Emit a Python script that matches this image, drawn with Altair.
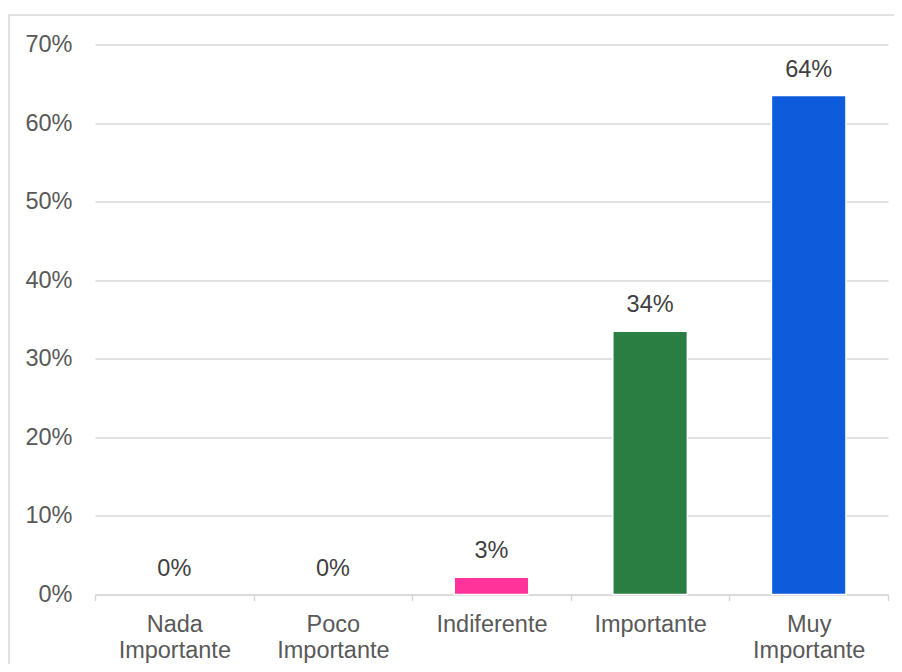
import altair as alt
import pandas as pd

categories = ["Nada Importante", "Poco Importante", "Indiferente", "Importante", "Muy Importante"]
values = [0.0, 0.0, 2.2, 33.5, 63.5]
labels = ["0%", "0%", "3%", "34%", "64%"]
colors = ["#FF3399", "#FF3399", "#FF3399", "#2A7E41", "#0E5BDC"]
y_ticks = [0, 10, 20, 30, 40, 50, 60, 70]

df = pd.DataFrame({"cat": categories, "val": values, "lab": labels})
frame_df = pd.DataFrame({"a": [0]})

FONT = "Liberation Sans"
FS = 23.5

x_enc = alt.X(
    "cat:N",
    sort=categories,
    scale=alt.Scale(domain=categories, paddingInner=0, paddingOuter=0),
    axis=alt.Axis(
        title=None,
        labelAngle=0,
        labelExpr="split(datum.label, ' ')",
        labelFont=FONT,
        labelFontSize=FS,
        labelColor="#595959",
        labelLineHeight=26,
        labelBaseline="alphabetic",
        labelPadding=31,
        tickSize=6,
        tickColor="#D9D9D9",
        tickWidth=1.5,
        tickBand="extent",
        domainColor="#D9D9D9",
        domainWidth=1.5,
        grid=False,
    ),
)

y_enc = alt.Y(
    "val:Q",
    scale=alt.Scale(domain=[0, 70], nice=False),
    axis=alt.Axis(
        title=None,
        values=y_ticks,
        labelExpr="datum.value + '%'",
        labelFont=FONT,
        labelFontSize=FS,
        labelColor="#595959",
        labelPadding=23,
        ticks=False,
        domain=False,
        grid=True,
        gridColor="#D9D9D9",
        gridWidth=1.3,
    ),
)

frame = alt.Chart(frame_df).mark_rect(
    fill=None, stroke="#D9D9D9", strokeWidth=1.5
).encode(
    x=alt.value(-86), x2=alt.value(900), y=alt.value(-29.5), y2=alt.value(700)
)

bars = alt.Chart(df).transform_filter("datum.val > 0").mark_bar(
    stroke="white", strokeWidth=1.5, width=alt.RelativeBandSize(0.47)
).encode(
    x=x_enc,
    y=y_enc,
    color=alt.Color("cat:N", sort=categories,
                    scale=alt.Scale(domain=categories, range=colors), legend=None),
)

text = alt.Chart(df).mark_text(
    dy=-19, baseline="alphabetic", font=FONT, fontSize=FS, color="#404040"
).encode(
    x=alt.X("cat:N", sort=categories),
    y=alt.Y("val:Q"),
    text="lab:N",
)

chart = alt.layer(frame, bars, text).properties(
    width=793,
    height=550,
    background="white",
    autosize=alt.AutoSizeParams(type="none"),
    padding={"left": 87, "top": 36.5, "right": 6, "bottom": 69},
).configure_view(stroke=None)

chart.save("out.html", embed_options={"renderer": "svg", "actions": False})
